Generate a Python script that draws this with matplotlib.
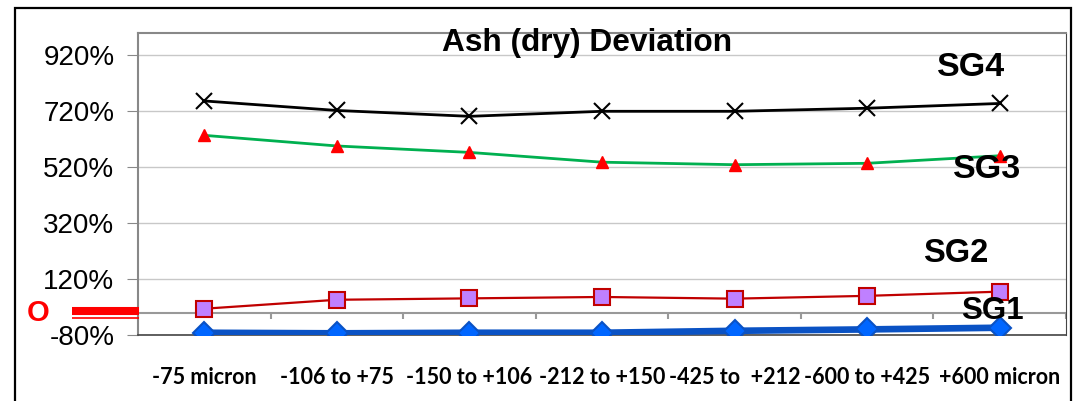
import numpy as np
import matplotlib
matplotlib.use('Agg')
import matplotlib.pyplot as plt
from matplotlib.patches import Rectangle
from matplotlib.lines import Line2D

# ==========================================
# Data
# ==========================================
categories = ['-75 micron', '-106 to +75', '-150 to +106', '-212 to +150',
              '-425 to  +212', '-600 to +425', '+600 micron']
sg1 = [-72, -74, -72, -72, -65, -60, -54]
sg2 = [14, 46, 51, 56, 50, 60, 75]
sg3 = [634, 596, 573, 538, 529, 534, 561]
sg4 = [757, 723, 702, 720, 720, 731, 748]
yticks = [-80, 120, 320, 520, 720, 920]

W, H = 1075, 401
fig = plt.figure(figsize=(W / 100, H / 100), dpi=100)
ax = fig.add_axes([138 / W, 66 / H, 928 / W, 302 / H])

x = np.arange(len(categories)) + 0.5

# ==========================================
# Series
# ==========================================
ax.plot(x, sg4, color='black', lw=2, marker='x', ms=11, mew=1.5, zorder=5)
ax.plot(x, sg3, color='#00B050', lw=2, marker='^', ms=9,
        mfc='#FF0000', mec='#FF0000', zorder=5)
ax.plot(x, sg2, color='#C00000', lw=1.6, marker='s', ms=11,
        mfc='#BF80FF', mec='#C00000', mew=1.5, zorder=5)
ax.plot(x, sg1, color='#0A52C4', lw=4.8, marker='D', ms=11,
        mfc='#0066FF', mec='#0A52C4', mew=1.5, zorder=6)

# ==========================================
# Axes styling
# ==========================================
ax.set_xlim(0, len(categories))
ax.set_ylim(-80, 1000)
ax.set_yticks(yticks)
ax.set_yticklabels([f'{v}%' for v in yticks], fontsize=20,
                   family='Liberation Sans')
ax.tick_params(axis='y', length=8, color='#888888', pad=9)
ax.yaxis.grid(True, color='#C8C8C8', lw=1)
ax.set_axisbelow(True)

ax.set_xticks(x)
ax.set_xticklabels(categories, fontsize=15.5, fontweight='bold', family='Lato')
ax.tick_params(axis='x', length=0, pad=23)

for side in ['top', 'left']:
    ax.spines[side].set_color('#888888')
    ax.spines[side].set_linewidth(1.5)
ax.spines['right'].set_color('#444444')
ax.spines['bottom'].set_color('#444444')
ax.spines['bottom'].set_linewidth(1.2)

# category axis crossing at 0 with boundary ticks
ax.axhline(0, color='#999999', lw=1.5, zorder=2)
ax.vlines(np.arange(1, len(categories) + 1), -22, 0, color='#999999', lw=1.5, zorder=2)

# ==========================================
# Annotations
# ==========================================
fig.text(587 / W, 1 - 43 / H, 'Ash (dry) Deviation', ha='center', va='center',
         fontsize=22.8, fontweight='bold', family='Liberation Sans')
labels = [('SG4', 971, 68, 24.5), ('SG3', 987, 170, 24.5),
          ('SG2', 956, 253, 23.5), ('SG1', 992, 311, 22.5)]
for txt, px, py, fs in labels:
    fig.text(px / W, 1 - py / H, txt, ha='center', va='center', fontsize=fs,
             fontweight='bold', family='Liberation Sans', zorder=10)

fig.text(38 / W, 1 - 313 / H, 'O', ha='center', va='center', color='#FF0000',
         fontsize=21, fontweight='bold', family='Liberation Sans')
fig.add_artist(Line2D([72 / W, 139 / W], [1 - 311 / H, 1 - 311 / H],
                      color='#FF0000', lw=5.8, solid_capstyle='butt'))
fig.add_artist(Line2D([72 / W, 139 / W], [1 - 318 / H, 1 - 318 / H],
                      color='#FF0000', lw=1.2, solid_capstyle='butt'))

# outer frame
fig.add_artist(Rectangle((15 / W, -0.05), 1056 / W, 1 - 8 / H + 0.05,
                         transform=fig.transFigure, fill=False,
                         edgecolor='black', lw=1.6))

fig.savefig('out.png', dpi=100)
